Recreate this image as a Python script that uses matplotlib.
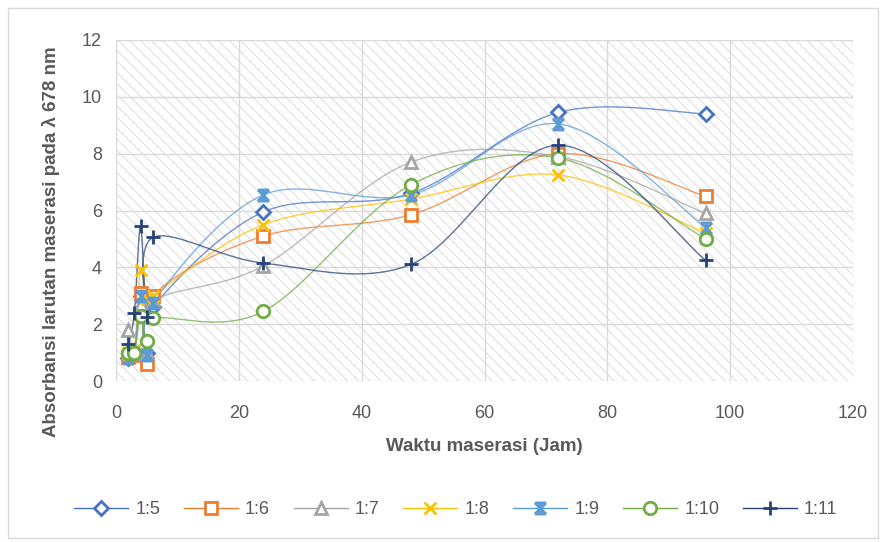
import matplotlib
matplotlib.use("Agg")
import matplotlib.pyplot as plt
import numpy as np
from matplotlib.lines import Line2D
from matplotlib.patches import Rectangle
from matplotlib.path import Path

plt.rcParams['font.family'] = ['Liberation Sans', 'DejaVu Sans']
plt.rcParams['hatch.linewidth'] = 0.5
plt.rcParams['hatch.color'] = '#d0d0d0'

# data
waktu = [2, 3, 4, 5, 6, 24, 48, 72, 96]
labels = ["1:5", "1:6", "1:7", "1:8", "1:9", "1:10", "1:11"]
r1_5 = [0.8, 1.0, 3.0, 1.0, 2.6, 5.95, 6.6, 9.45, 9.4]
r1_6 = [0.85, 0.9, 3.1, 0.6, 3.0, 5.1, 5.85, 8.0, 6.5]
r1_7 = [1.8, 1.1, 2.7, 1.0, 2.8, 4.05, 7.7, 7.9, 5.9]
r1_8 = [1.0, 1.1, 3.9, 2.9, 3.0, 5.5, 6.4, 7.25, 5.2]
r1_9 = [0.8, 1.0, 3.0, 0.9, 2.75, 6.55, 6.55, 9.05, 5.4]
r1_10 = [1.0, 1.0, 2.3, 1.4, 2.2, 2.45, 6.9, 7.85, 5.0]
r1_11 = [1.3, 2.4, 5.45, 2.25, 5.05, 4.15, 4.1, 8.3, 4.25]
series = [r1_5, r1_6, r1_7, r1_8, r1_9, r1_10, r1_11]

# excel "star" marker: x with caps top and bottom
star = Path([(-1, -1), (1, 1), (-1, 1), (1, -1), (-1, 1), (1, 1), (-1, -1), (1, -1), (0, -1), (0, 1)],
            [Path.MOVETO, Path.LINETO, Path.MOVETO, Path.LINETO, Path.MOVETO, Path.LINETO,
             Path.MOVETO, Path.LINETO, Path.MOVETO, Path.LINETO])

colors = ['#4472C4', '#ED7D31', '#A5A5A5', '#FFC000', '#5B9BD5', '#70AD47', '#264478']
markers = ['D', 's', '^', 'x', star, 'o', '+']
msizes = [7, 9, 8, 8, 8, 9, 10]
fills = ['white', 'white', 'white', 'none', 'none', 'white', 'none']

fig = plt.figure(figsize=(8.85, 5.42), dpi=100)
ax = fig.add_axes([116/885, 1-381/542, (853-116)/885, (381-40)/542])
ax.set_xlim(0, 120)
ax.set_ylim(0, 12)

# hatched plot area
ax.add_patch(Rectangle((0, 0), 1, 1, transform=ax.transAxes, facecolor='white',
                       hatch='\\\\\\', edgecolor='#d0d0d0', linewidth=0, zorder=0))
ax.set_xticks(range(0, 121, 20))
ax.set_yticks(range(0, 13, 2))
ax.grid(True, color='#d9d9d9', linewidth=1)
ax.set_axisbelow(True)
for s in ax.spines.values():
    s.set_visible(False)
ax.tick_params(length=0, labelsize=13, labelcolor='#595959', pad=10)
ax.tick_params(axis='x', pad=17)


def smooth(xs, ys):
    # excel style smooth line, bezier in display space
    pts = ax.transData.transform(np.column_stack([xs, ys]))
    n = len(pts)
    out = []
    t = np.linspace(0, 1, 25)[:, None]
    for i in range(n - 1):
        p0 = pts[i]
        p3 = pts[i + 1]
        pm = pts[i - 1] if i > 0 else pts[i]
        pp = pts[i + 2] if i + 2 < n else pts[i + 1]
        c1 = p0 + (p3 - pm) / 6
        c2 = p3 - (pp - p0) / 6
        seg = (1-t)**3*p0 + 3*(1-t)**2*t*c1 + 3*(1-t)*t**2*c2 + t**3*p3
        out.append(seg)
    out = np.vstack(out)
    return ax.transData.inverted().transform(out)


handles = []
for vals, lab, c, m, ms, fc in zip(series, labels, colors, markers, msizes, fills):
    curve = smooth(waktu, vals)
    ax.plot(curve[:, 0], curve[:, 1], color=c, linewidth=1, alpha=0.75, zorder=2)
    ax.plot(waktu, vals, linestyle='none', marker=m, markersize=ms,
            markerfacecolor=fc, markeredgecolor=c, markeredgewidth=2, zorder=3)
    handles.append(Line2D([], [], color=c, linewidth=1, marker=m, markersize=ms,
                          markerfacecolor=fc, markeredgecolor=c, markeredgewidth=2, label=lab))

ax.set_xlabel("Waktu maserasi (Jam)", fontsize=13.5, fontweight='bold', color='#595959', labelpad=12)
ax.set_ylabel("Absorbansi larutan maserasi pada λ 678 nm", fontsize=13.5, fontweight='bold',
              color='#595959')
ax.yaxis.set_label_coords(-0.076, 0.41)

fig.legend(handles=handles, loc='center', bbox_to_anchor=(0.515, 1-510/542), ncol=7,
           frameon=False, fontsize=13, labelcolor='#595959', handlelength=3.0,
           columnspacing=1.3, handletextpad=0.4)

fig.patches.append(Rectangle((8/885, 4/542), 870/885, 530/542, transform=fig.transFigure,
                             fill=False, edgecolor='#d9d9d9', linewidth=1))

fig.savefig("out.png", dpi=100)
